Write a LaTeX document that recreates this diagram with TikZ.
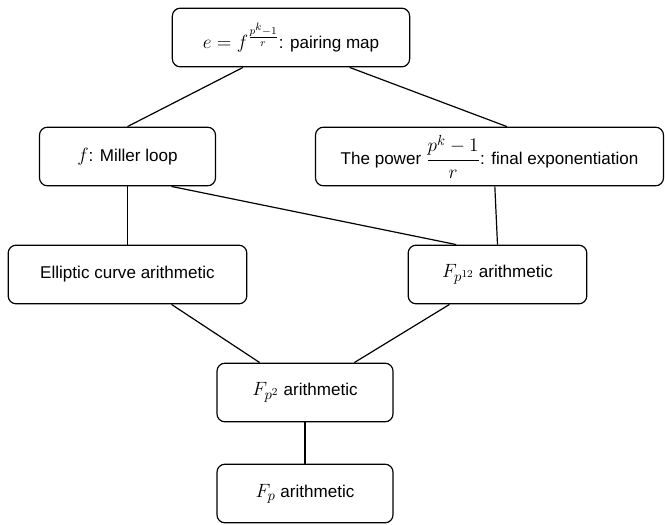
\documentclass[tikz,border=0pt]{standalone}
\usepackage{amsmath,amssymb}
\usepackage{fontspec}
\setmainfont{Liberation Sans}
\usetikzlibrary{positioning}
\tikzset{
  layer/.style={
    draw, rectangle, rounded corners=6pt, line width=0.9pt,
    minimum height=44pt, inner sep=2pt,
    font=\fontsize{12.8}{15}\selectfont, align=center
  },
  link/.style={line width=0.9pt}
}
% math is set a little larger than the text, as in the original
\newcommand{\bigmath}[1]{{\fontsize{15.5}{18}\selectfont$#1$}}
\newcommand{\layerbox}[5]{%
  \node[layer, minimum width=#4] (#1) at (#2,#3) {#5};%
}

\begin{document}
\begin{tikzpicture}[x=0.75pt, y=-0.75pt]
    \useasboundingbox (0,0) rectangle (665,525);
    \layerbox{pairing}{291}{37.5}{178pt}{\bigmath{e=f^{\frac{p^k-1}{r}}}: pairing map}
    \layerbox{miller}{127.5}{156.5}{132pt}{\bigmath{f}: Miller loop}
    \layerbox{finalexp}{489.5}{156.5}{261pt}{The power \bigmath{\dfrac{p^k-1}{r}}: final exponentiation}
    \layerbox{curve}{127.5}{274.5}{179pt}{Elliptic curve arithmetic}
    \layerbox{fptwelve}{497.5}{274.5}{134pt}{\bigmath{F_{p^{12}}} arithmetic}
    \layerbox{fptwo}{305}{392.5}{132pt}{\bigmath{F_{p^2}} arithmetic}
    \layerbox{fp}{305}{493.5}{132pt}{\bigmath{F_p} arithmetic}
    \draw[link] ([xshift=-36pt]pairing.south) -- (miller.north);
    \draw[link] ([xshift=44pt]pairing.south) -- ([xshift=13pt]finalexp.north);
    \draw[link] (miller.south) -- (curve.north);
    \draw[link] ([xshift=33pt]miller.south) -- ([xshift=-31pt]fptwelve.north);
    \draw[link] ([xshift=4pt]finalexp.south) -- (fptwelve.north);
    \draw[link] ([xshift=33pt]curve.south) -- ([xshift=-34pt]fptwo.north);
    \draw[link] ([xshift=-36pt]fptwelve.south) -- ([xshift=37pt]fptwo.north);
    \draw[link] (fptwo.south) -- (fp.north);
\end{tikzpicture}
\end{document}
